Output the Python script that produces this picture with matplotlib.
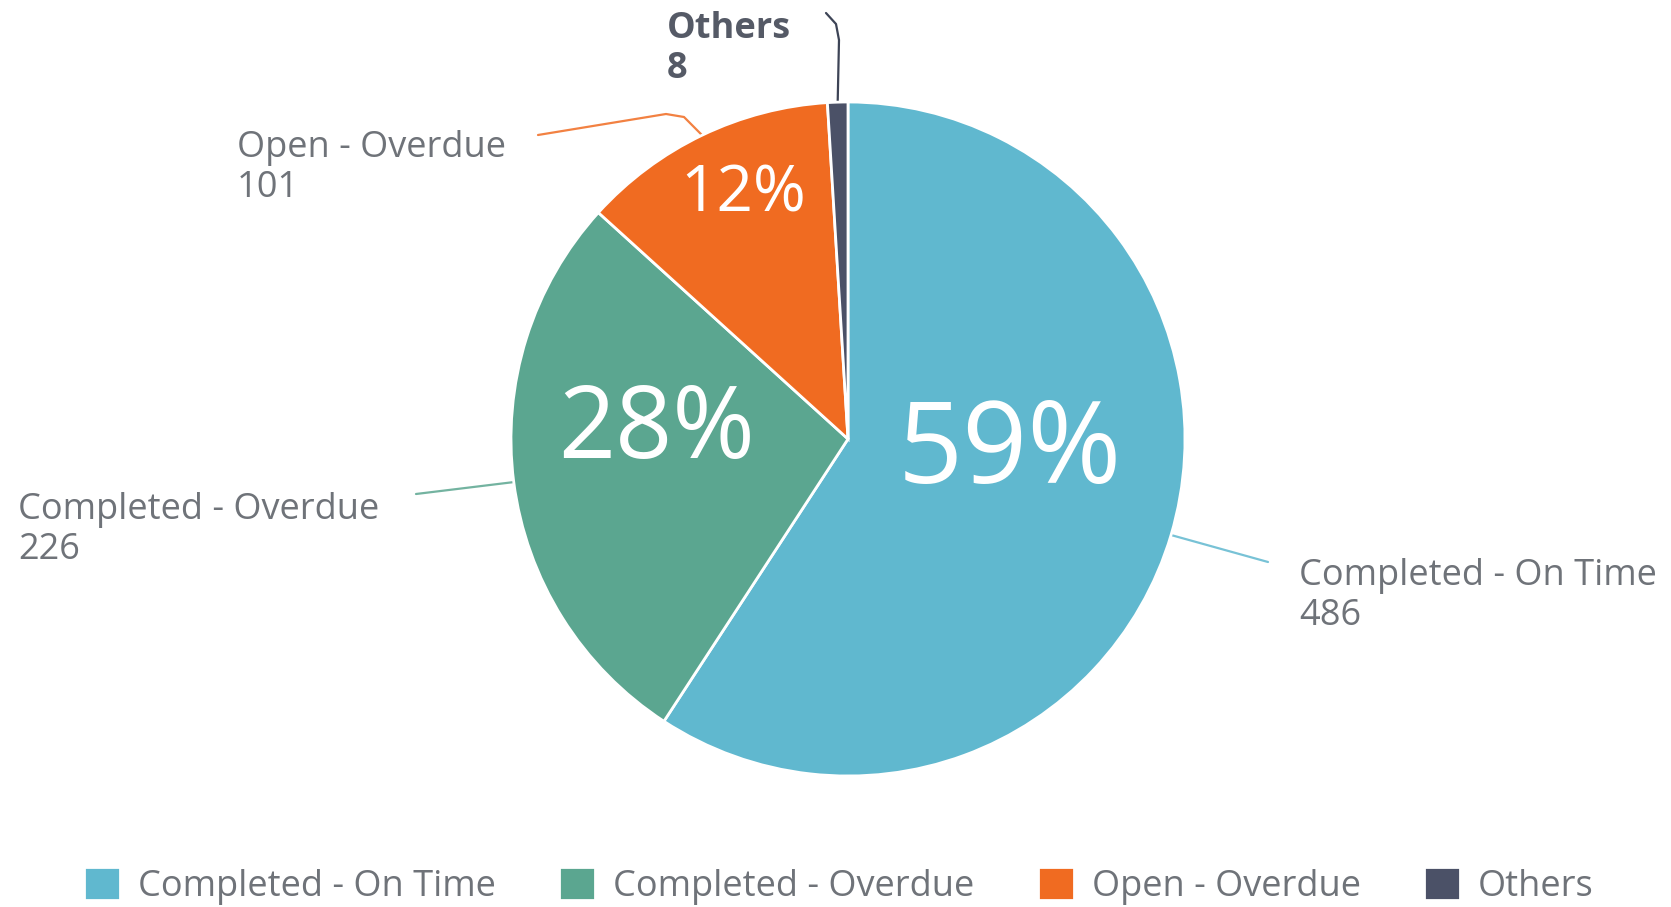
import numpy as np
import matplotlib.pyplot as plt

plt.rcParams['font.family'] = ['Open Sans', 'DejaVu Sans']

categories = ["Completed - On Time", "Completed - Overdue", "Open - Overdue", "Others"]
counts = [486, 226, 101, 8]
colors = ["#60B8CF", "#5BA690", "#F06B21", "#4B5167"]

W, H = 1671, 907
cx, cy, R = 848, H - 439, 337

fig = plt.figure(figsize=(W / 100, H / 100), dpi=100)
ax = fig.add_axes([0, 0, 1, 1])

wedges, texts, pcts = ax.pie(
    counts, colors=colors, startangle=90, counterclock=False,
    center=(cx, cy), radius=R,
    autopct=lambda p: f"{p:.0f}%" if p > 5 else "",
    wedgeprops=dict(edgecolor="white", linewidth=2),
    textprops=dict(color="white"))

# percentage labels: position (px from top-left) and size
pct_pos = [(1010, 453, 82), (657, 432, 72), (743, 195, 46)]
for t, (x, y, fs) in zip(pcts, pct_pos):
    t.set_position((x, H - y))
    t.set_fontsize(fs)
    t.set_ha("center")
    t.set_va("center")

# outer labels with leader lines
label_pos = [(1299, 596), (18, 530), (237, 168), (667, 49)]
elbows = [
    [(1268, 562)],
    [(416, 494)],
    [(684, 117), (666, 114), (538, 135)],
    [(839, 40), (836, 24), (826, 13)],
]
for w, name, n, col, (lx, ly), pts in zip(wedges, categories, counts, colors, label_pos, elbows):
    mid = np.deg2rad((w.theta1 + w.theta2) / 2)
    ax0 = cx + R * np.cos(mid)
    ay0 = cy + R * np.sin(mid)
    xs = [ax0] + [p[0] for p in pts]
    ys = [ay0] + [H - p[1] for p in pts]
    bold = name == "Others"
    line_col = "#3d4456" if bold else col
    ax.plot(xs, ys, color=line_col, lw=1.6, alpha=1 if bold else 0.85,
            solid_capstyle="round", zorder=0)
    ax.text(lx, H - ly, f"{name}\n{n}", fontsize=26, ha="left", va="center",
            linespacing=1.12, color="#555a66" if bold else "#6f7379",
            fontweight="bold" if bold else "normal")

ax.set_xlim(0, W)
ax.set_ylim(0, H)
ax.set_aspect("auto")
ax.axis("off")

fig.legend(wedges, categories, loc="center", bbox_to_anchor=(0.502, 1 - 886 / H),
           ncol=4, frameon=False, fontsize=26, handlelength=1.0, handleheight=1.05,
           handletextpad=0.5, columnspacing=1.75, labelcolor="#6f7379")

fig.savefig("out.png", dpi=100)
